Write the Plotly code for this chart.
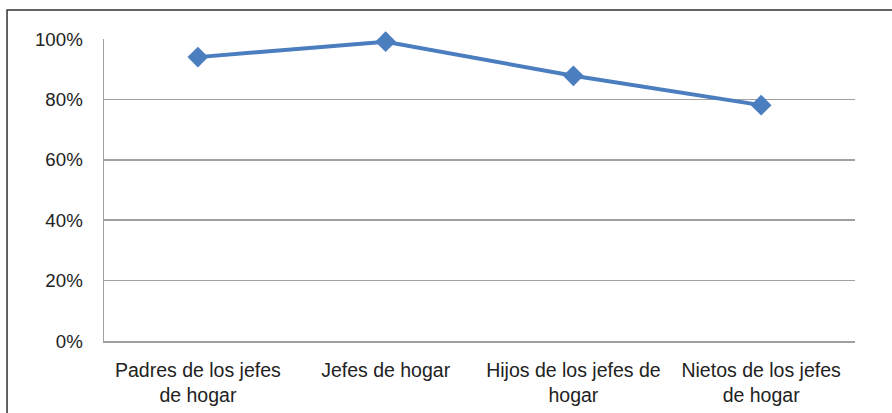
import plotly.graph_objects as go

categories = ["Padres de los jefes<br>de hogar", "Jefes de hogar",
              "Hijos de los jefes de<br>hogar", "Nietos de los jefes<br>de hogar"]
values = [0.940, 0.991, 0.878, 0.781]
y_ticks = [0, 0.2, 0.4, 0.6, 0.8, 1.0]
y_tick_labels = ["0%", "20%", "40%", "60%", "80%", "100%"]

fig = go.Figure()
fig.add_trace(go.Scatter(
    x=list(range(len(categories))), y=values, mode="lines+markers",
    line=dict(color="#4A7EBF", width=4),
    marker=dict(symbol="diamond", size=16, color="#4A7EBF"),
    showlegend=False, hoverinfo="skip", cliponaxis=False,
))

fig.update_layout(
    width=892, height=413,
    margin=dict(l=104, r=37, t=39, b=72, autoexpand=False),
    paper_bgcolor="white", plot_bgcolor="white",
    font=dict(family="Liberation Sans, Arial, sans-serif", size=19, color="#222222"),
    xaxis=dict(
        range=[-0.5, 3.5], tickmode="array",
        tickvals=list(range(len(categories))), ticktext=categories,
        tickfont=dict(size=19.5), automargin=False,
        showgrid=False, zeroline=False, showline=True, linecolor="#A0A0A0",
        linewidth=1.5, ticks="", fixedrange=True, ticklabelstandoff=11,
    ),
    yaxis=dict(
        range=[0, 1.0], tickmode="array", tickvals=y_ticks, ticktext=y_tick_labels,
        tickfont=dict(size=18.7), automargin=False,
        showgrid=True, gridcolor="#A0A0A0", gridwidth=1.5, zeroline=False,
        showline=True, linecolor="#A0A0A0", linewidth=1.5, ticks="",
        ticklabelstandoff=16, fixedrange=True,
    ),
    shapes=[dict(type="rect", xref="paper", yref="paper",
                 x0=-0.1291, x1=1.2, y0=-0.4, y1=1.096,
                 line=dict(color="#333333", width=1.5), layer="below")],
)

fig.write_html("out.html", config={"displayModeBar": False, "staticPlot": True},
               post_script="document.body.style.margin='0';document.body.style.padding='0';")
